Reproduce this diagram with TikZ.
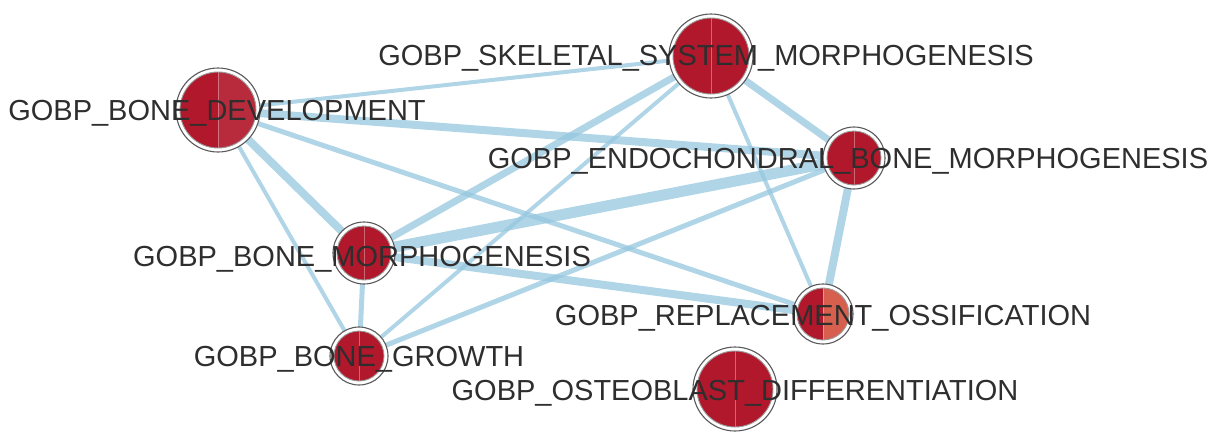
\documentclass[tikz,border=0pt]{standalone}
\usepackage{fontspec}
\setmainfont{Liberation Sans}
\usetikzlibrary{backgrounds}
\definecolor{gored}{HTML}{B2182B}
\definecolor{goorange}{HTML}{D6604D}
\definecolor{edgeblue}{HTML}{92C5DE}
\definecolor{ringgray}{HTML}{5A5A5A}
\definecolor{innergray}{HTML}{9A9A9A}
\definecolor{labelgray}{HTML}{2E2E2E}
\tikzset{
  gonodestyle/.style={circle, inner sep=0pt, outer sep=0pt, fill=white, draw=ringgray, line width=1.1pt},
  innerring/.style={draw=innergray, line width=0.9pt},
  divider/.style={draw=white, opacity=0.35, line width=0.9pt},
  goedge/.style={draw=edgeblue, opacity=0.72, line cap=butt},
  golabel/.style={font=\fontsize{29}{34}\selectfont, text=labelgray, inner sep=0pt, anchor=base},
}
\newcommand\gonode[6]{%
  \node[gonodestyle, minimum size={#4*2pt}] (#1) at (#2,#3) {};
  \begin{scope}
    \clip (#2,#3) circle ({(#4-4)*1pt});
    \fill[#5] (#2-#4,#3-#4) rectangle (#2,#3+#4);
    \fill[#6] (#2,#3-#4) rectangle (#2+#4,#3+#4);
    \draw[divider] (#2,#3-#4) -- (#2,#3+#4);
  \end{scope}
  \draw[innerring] (#2,#3) circle ({(#4-4)*1pt});
}
\begin{document}
\begin{tikzpicture}[x=1pt,y=-1pt]
\useasboundingbox (0,0) rectangle (1215,432);
% nodes
\gonode{skel}{711}{56}{42}{gored}{gored}
\gonode{bdev}{218}{110}{42}{gored}{gored!92!white}
\gonode{endo}{854}{158}{31}{gored}{gored}
\gonode{bmorph}{364}{253}{31}{gored}{gored}
\gonode{repl}{823}{314}{30}{gored}{goorange}
\gonode{bgrowth}{359}{356}{29}{gored}{gored}
\gonode{osteo}{735}{389}{42}{gored}{gored}
% edges
\begin{scope}[on background layer]
\draw[goedge, line width=4pt] (skel) -- (bdev);
\draw[goedge, line width=7pt] (skel) -- (bmorph);
\draw[goedge, line width=4pt] (skel) -- (bgrowth);
\draw[goedge, line width=7pt] (skel) -- (endo);
\draw[goedge, line width=4pt] (skel) -- (repl);
\draw[goedge, line width=8pt] (bdev) -- (endo);
\draw[goedge, line width=8pt] (bdev) -- (bmorph);
\draw[goedge, line width=4pt] (bdev) -- (bgrowth);
\draw[goedge, line width=5pt] (bdev) -- (repl);
\draw[goedge, line width=11pt] (endo) -- (bmorph);
\draw[goedge, line width=5pt] (endo) -- (bgrowth);
\draw[goedge, line width=8pt] (endo) -- (repl);
\draw[goedge, line width=8pt] (bmorph) -- (repl);
\draw[goedge, line width=5pt] (bmorph) -- (bgrowth);
\end{scope}
% labels
\node[golabel] (skel-l) at (706,65.5) {GOBP\_SKELETAL\_SYSTEM\_MORPHOGENESIS};
\node[golabel] (bdev-l) at (217,120.5) {GOBP\_BONE\_DEVELOPMENT};
\node[golabel] (endo-l) at (848,168.5) {GOBP\_ENDOCHONDRAL\_BONE\_MORPHOGENESIS};
\node[golabel] (bmorph-l) at (362,266.5) {GOBP\_BONE\_MORPHOGENESIS};
\node[golabel] (repl-l) at (823,325.5) {GOBP\_REPLACEMENT\_OSSIFICATION};
\node[golabel] (bgrowth-l) at (359,366.5) {GOBP\_BONE\_GROWTH};
\node[golabel] (osteo-l) at (735,400.5) {GOBP\_OSTEOBLAST\_DIFFERENTIATION};
\end{tikzpicture}
\end{document}
